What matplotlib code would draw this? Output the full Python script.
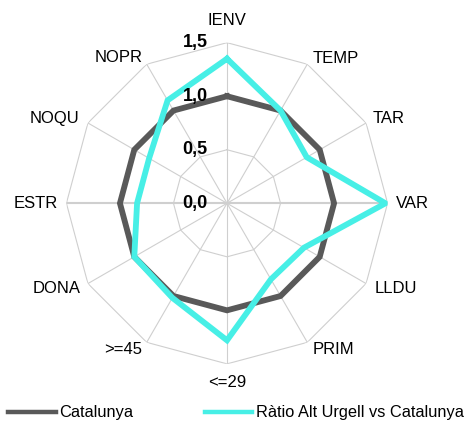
"""
Radar chart: Ràtio Alt Urgell vs Catalunya (Catalunya = 1).
"""

import numpy as np
import matplotlib
matplotlib.use("Agg")
import matplotlib.pyplot as plt
from matplotlib.lines import Line2D

plt.rcParams["font.family"] = ["Liberation Sans", "DejaVu Sans"]

# ── Data ──────────────────────────────────────────────────────────────────
CATEGORIES = ["IENV", "TEMP", "TAR", "VAR", "LLDU", "PRIM",
              "<=29", ">=45", "DONA", "ESTR", "NOQU", "NOPR"]
CATALUNYA  = [1.0, 1.0, 1.0, 1.0, 1.0, 1.0, 1.0, 1.0, 1.0, 1.0, 1.0, 1.0]
RATIO_AU   = [1.35, 1.0, 0.86, 1.48, 0.83, 0.82, 1.28, 1.02, 1.0, 0.84, 0.84, 1.11]
RINGS      = [0.5, 1.0, 1.5]
RTICKS     = [0.0, 0.5, 1.0, 1.5]
RTICK_LBL  = ["0,0", "0,5", "1,0", "1,5"]

GREY = "#595959"
CYAN = "#47EFE6"
GRID = "#CFCFCF"

# ── Figure ────────────────────────────────────────────────────────────────
fig = plt.figure(figsize=(4.68, 4.25), dpi=100)
ax = fig.add_axes([0.1419, 0.1438, 0.6863, 0.7558], projection="polar")
ax.set_theta_offset(np.pi / 2)
ax.set_theta_direction(-1)
ax.set_ylim(0, 1.5)
ax.grid(False)
ax.spines["polar"].set_visible(False)
ax.set_xticks([])
ax.set_yticks([])

n = len(CATEGORIES)
theta = np.linspace(0, 2 * np.pi, n, endpoint=False)
closed = np.append(theta, theta[0])

# polygonal grid rings + spokes
for r in RINGS:
    ax.plot(closed, [r] * (n + 1), color=GRID, lw=0.8, zorder=1)
for i, t in enumerate(theta):
    lw = 1.5 if i in (3, 9) else 0.8
    ax.plot([t, t], [0, 1.5], color=GRID, lw=lw, zorder=1)

# series
ax.plot(closed, CATALUNYA + CATALUNYA[:1], color=GREY, lw=4.2, zorder=3,
        solid_joinstyle="miter")
ax.plot(closed, RATIO_AU + RATIO_AU[:1], color=CYAN, lw=4.2, zorder=4,
        solid_joinstyle="miter")

# category labels (offsets in points from the outer vertex)
offsets = {
    "IENV": (0, 16, "center"), "TEMP": (4, 4, "left"), "TAR": (5, 3.5, "left"),
    "VAR": (6, 0, "left"), "LLDU": (6, -3.5, "left"), "PRIM": (3.5, -5, "left"),
    "<=29": (0, -13.5, "center"), ">=45": (-3, -5.5, "right"),
    "DONA": (-5, -3.5, "right"), "ESTR": (-6, 0, "right"),
    "NOQU": (-6, 3, "right"), "NOPR": (-3, 4.5, "right"),
}
for t, name in zip(theta, CATEGORIES):
    dx, dy, ha = offsets[name]
    ax.annotate(name, xy=(t, 1.5), xytext=(dx, dy), textcoords="offset points",
                ha=ha, va="center", fontsize=12, color="black",
                annotation_clip=False)

# radial tick labels, bold, left of the vertical axis
for r, lbl in zip(RTICKS, RTICK_LBL):
    ax.annotate(lbl, xy=(0, r), xytext=(-14, 0), textcoords="offset points",
                ha="right", va="center", fontsize=13, fontweight="bold",
                annotation_clip=False, zorder=5)

# legend
handles = [Line2D([], [], color=GREY, lw=3.2),
           Line2D([], [], color=CYAN, lw=3.2)]
fig.legend(handles, ["Catalunya", "Ràtio Alt Urgell vs Catalunya"],
           loc="center left", bbox_to_anchor=(8 / 468, 1 - 413 / 425),
           ncol=2, frameon=False, fontsize=11.8, borderpad=0, borderaxespad=0,
           handlelength=2.9, handletextpad=0.2, columnspacing=4.4)

fig.savefig("out.png", dpi=100)
